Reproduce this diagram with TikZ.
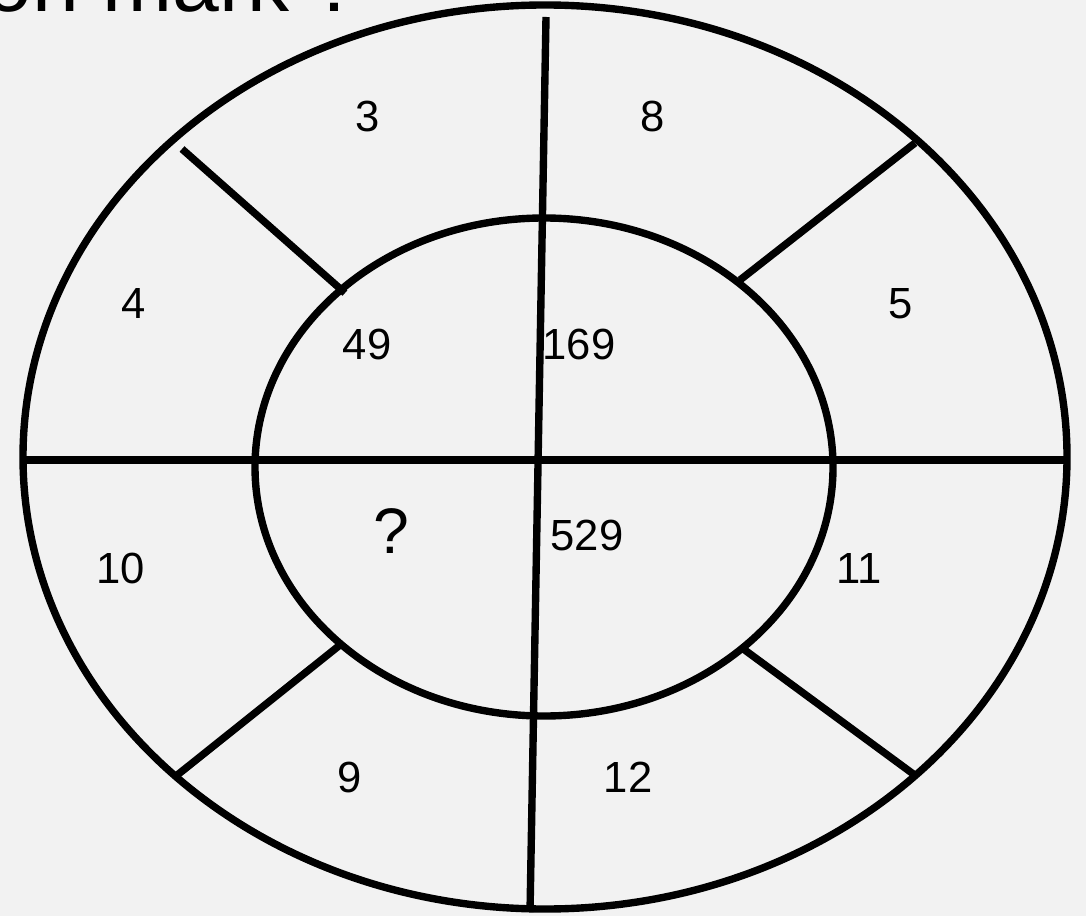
\documentclass[tikz,border=0pt]{standalone}
\usepackage{fontspec}
\setmainfont{Liberation Sans}
\definecolor{bgcol}{RGB}{242,242,242}

\begin{document}
\begin{tikzpicture}[
  x=0.01cm, y=-0.01cm,
  ring/.style={line width=2.1pt,draw=black},
  spoke/.style={line width=2.1pt,draw=black},
  num/.style={inner sep=0pt,font=\fontsize{12.4}{14}\selectfont},
  qmark/.style={inner sep=0pt,font=\fontsize{18.3}{22}\selectfont},
  ttl/.style={inner sep=0pt,anchor=base west,font=\fontsize{23.9}{28}\selectfont}
]

% ---- frame ----
\useasboundingbox (0,0) rectangle (1086,916);
\fill[bgcol] (0,0) rectangle (1086,916);
\clip (0,0) rectangle (1086,916);

% ---- title, cut off at the top ----
\node[ttl] (title) at (-258,12) {Question mark ?};

% ---- the two rings ----
\draw[ring] (545,457) ellipse [x radius=522, y radius=452];
\draw[ring] (544,467) ellipse [x radius=289, y radius=249];

% ---- cross lines ----
\coordinate (vtop) at (546,17);
\coordinate (vbot) at (530,912);
\coordinate (hleft) at (23,460);
\coordinate (hright) at (1067,460);
\draw[spoke] (vtop) -- (vbot);
\draw[spoke] (hleft) -- (hright);

% ---- short spokes in the outer ring ----
\coordinate (ulo) at (182,149); \coordinate (uli) at (345,293);
\coordinate (uro) at (915,143); \coordinate (uri) at (740,280);
\coordinate (llo) at (176,776); \coordinate (lli) at (340,645);
\coordinate (lro) at (916,776); \coordinate (lri) at (742,648);
\draw[spoke] (ulo) -- (uli);
\draw[spoke] (uro) -- (uri);
\draw[spoke] (llo) -- (lli);
\draw[spoke] (lro) -- (lri);

% ---- outer numbers ----
\node[num] (n3)  at (368,116) {3};
\node[num] (n8)  at (653,116) {8};
\node[num] (n4)  at (134,304) {4};
\node[num] (n5)  at (901,304) {5};
\node[num] (n10) at (121,568) {10};
\node[num] (n11) at (859,568) {11};
\node[num] (n9)  at (350,777) {9};
\node[num] (n12) at (628,777) {12};

% ---- inner numbers ----
\node[num] (n49)  at (367,344) {49};
\node[num] (n169) at (579,344) {169};
\node[qmark] (nq) at (391,531) {?};
\node[num] (n529) at (587,535) {529};

\end{tikzpicture}
\end{document}
